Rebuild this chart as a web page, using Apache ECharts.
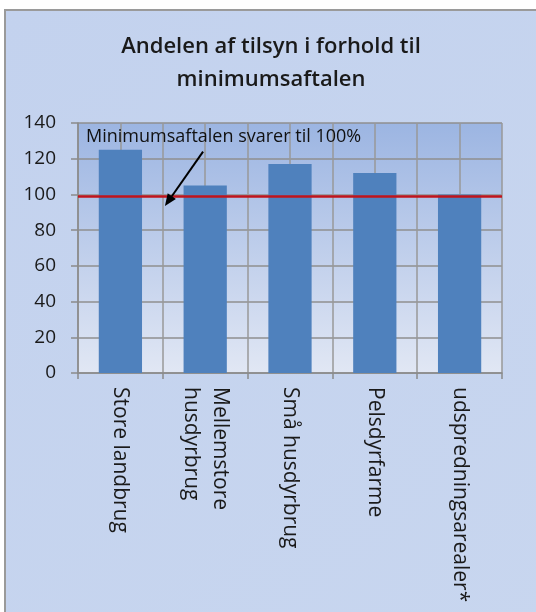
<!DOCTYPE html>
<html>
<head>
<meta charset="utf-8">
<script src="https://cdn.jsdelivr.net/npm/echarts@6/dist/echarts.min.js"></script>
<style>
  html, body { margin: 0; padding: 0; background: #fff; }
  #main { width: 536px; height: 612px; }
</style>
</head>
<body>
<div id="main"></div>
<script>
// data
var categories = ["Store landbrug", "Mellemstore\nhusdyrbrug", "Små husdyrbrug", "Pelsdyrfarme", "udspredningsarealer*"];
var values = [125, 105, 117, 112, 100];
var yTicks = [0, 20, 40, 60, 80, 100, 120, 140];
var minimumLine = 99;
var noteText = "Minimumsaftalen svarer til 100%";

// half-category slots, only used for the extra vertical gridlines
var halfSlots = [];
categories.forEach(function (c) { halfSlots.push(c + "_a", c + "_b"); });

var myChart = echarts.init(document.getElementById("main"));

var option = {
  animation: false,
  backgroundColor: "#fff",
  title: {
    text: "Andelen af tilsyn i forhold til\nminimumsaftalen",
    left: 266,
    top: 25,
    textAlign: "center",
    textStyle: {
      fontFamily: "Open Sans",
      fontSize: 22,
      fontWeight: 600,
      color: "#1a1a1a",
      lineHeight: 33
    }
  },
  grid: {
    left: 78,
    right: 34,
    top: 123,
    bottom: 239,
    show: true,
    borderWidth: 0,
    backgroundColor: new echarts.graphic.LinearGradient(0, 0, 0, 1, [
      { offset: 0, color: "#9cb5e2" },
      { offset: 1, color: "#e1e7f4" }
    ])
  },
  xAxis: [
    {
      type: "category",
      data: categories,
      axisLine: { lineStyle: { color: "#8a8a8a", width: 1.5 } },
      axisTick: { show: true, length: 6, lineStyle: { color: "#8a8a8a", width: 1.5 } },
      splitLine: { show: false },
      axisLabel: {
        rotate: -90,
        margin: 14,
        interval: 0,
        fontFamily: "Open Sans",
        fontSize: 21,
        color: "#1a1a1a",
        lineHeight: 29
      }
    },
    {
      type: "category",
      data: halfSlots,
      position: "bottom",
      axisLine: { show: false },
      axisTick: { show: false },
      axisLabel: { show: false, interval: 0 },
      splitLine: { show: true, interval: 0, lineStyle: { color: "#999999", width: 1.5 } }
    }
  ],
  yAxis: {
    type: "value",
    min: 0,
    max: 140,
    interval: 20,
    axisLine: { show: true, lineStyle: { color: "#8a8a8a", width: 1.5 } },
    axisTick: { show: true, length: 7, lineStyle: { color: "#8a8a8a", width: 1.5 } },
    axisLabel: {
      margin: 22,
      fontFamily: "Open Sans",
      fontSize: 19,
      color: "#1a1a1a",
      formatter: function (v) { return yTicks.indexOf(v) >= 0 ? String(v) : ""; }
    },
    splitLine: { show: true, lineStyle: { color: "#8f8f8f", width: 1.5 } }
  },
  series: [
    {
      type: "bar",
      xAxisIndex: 0,
      data: values,
      barWidth: "51%",
      itemStyle: { color: "#4f81bd" },
      markLine: {
        silent: true,
        symbol: "none",
        label: { show: false },
        lineStyle: { color: "#c0141c", width: 2.5, type: "solid" },
        data: [{ yAxis: minimumLine }]
      }
    }
  ],
  graphic: [
    {
      type: "rect",
      z: -10,
      silent: true,
      shape: { x: 5, y: 10, width: 560, height: 630 },
      style: {
        fill: new echarts.graphic.LinearGradient(0, 0, 1, 1, [
          { offset: 0, color: "#c3d2ee" },
          { offset: 1, color: "#c8d6ef" }
        ]),
        stroke: "#9a9a9a",
        lineWidth: 2
      }
    }
  ]
};

myChart.setOption(option);

// annotation placed through the chart's own scales (category index + y value)
var catW = myChart.convertToPixel({ xAxisIndex: 0 }, 1) - myChart.convertToPixel({ xAxisIndex: 0 }, 0);
function at(slot, v) {
  // slot: position in half-category units from the left edge of the plot
  var x0 = myChart.convertToPixel({ xAxisIndex: 0 }, 0) - catW / 2;
  return [x0 + slot * catW / 2, myChart.convertToPixel({ yAxisIndex: 0 }, v)];
}
var textPos = at(0.19, 132);
var arrowFrom = at(2.95, 124);
var arrowTo = at(2.05, 93.5);
var ang = Math.atan2(arrowTo[1] - arrowFrom[1], arrowTo[0] - arrowFrom[0]);
var headLen = 12, headW = 5;
var bx = arrowTo[0] - headLen * Math.cos(ang), by = arrowTo[1] - headLen * Math.sin(ang);
var px = -Math.sin(ang) * headW, py = Math.cos(ang) * headW;

myChart.setOption({
  graphic: [
    option.graphic[0],
    {
      type: "text",
      silent: true,
      z: 100,
      x: textPos[0],
      y: textPos[1],
      style: {
        text: noteText,
        fontFamily: "Open Sans",
        fontSize: 18,
        fill: "#111",
        verticalAlign: "middle"
      }
    },
    {
      type: "line",
      silent: true,
      z: 100,
      shape: { x1: arrowFrom[0], y1: arrowFrom[1], x2: bx, y2: by },
      style: { stroke: "#000", lineWidth: 2 }
    },
    {
      type: "polygon",
      silent: true,
      z: 100,
      shape: { points: [[arrowTo[0], arrowTo[1]], [bx + px, by + py], [bx - px, by - py]] },
      style: { fill: "#000" }
    }
  ]
});
</script>
</body>
</html>
